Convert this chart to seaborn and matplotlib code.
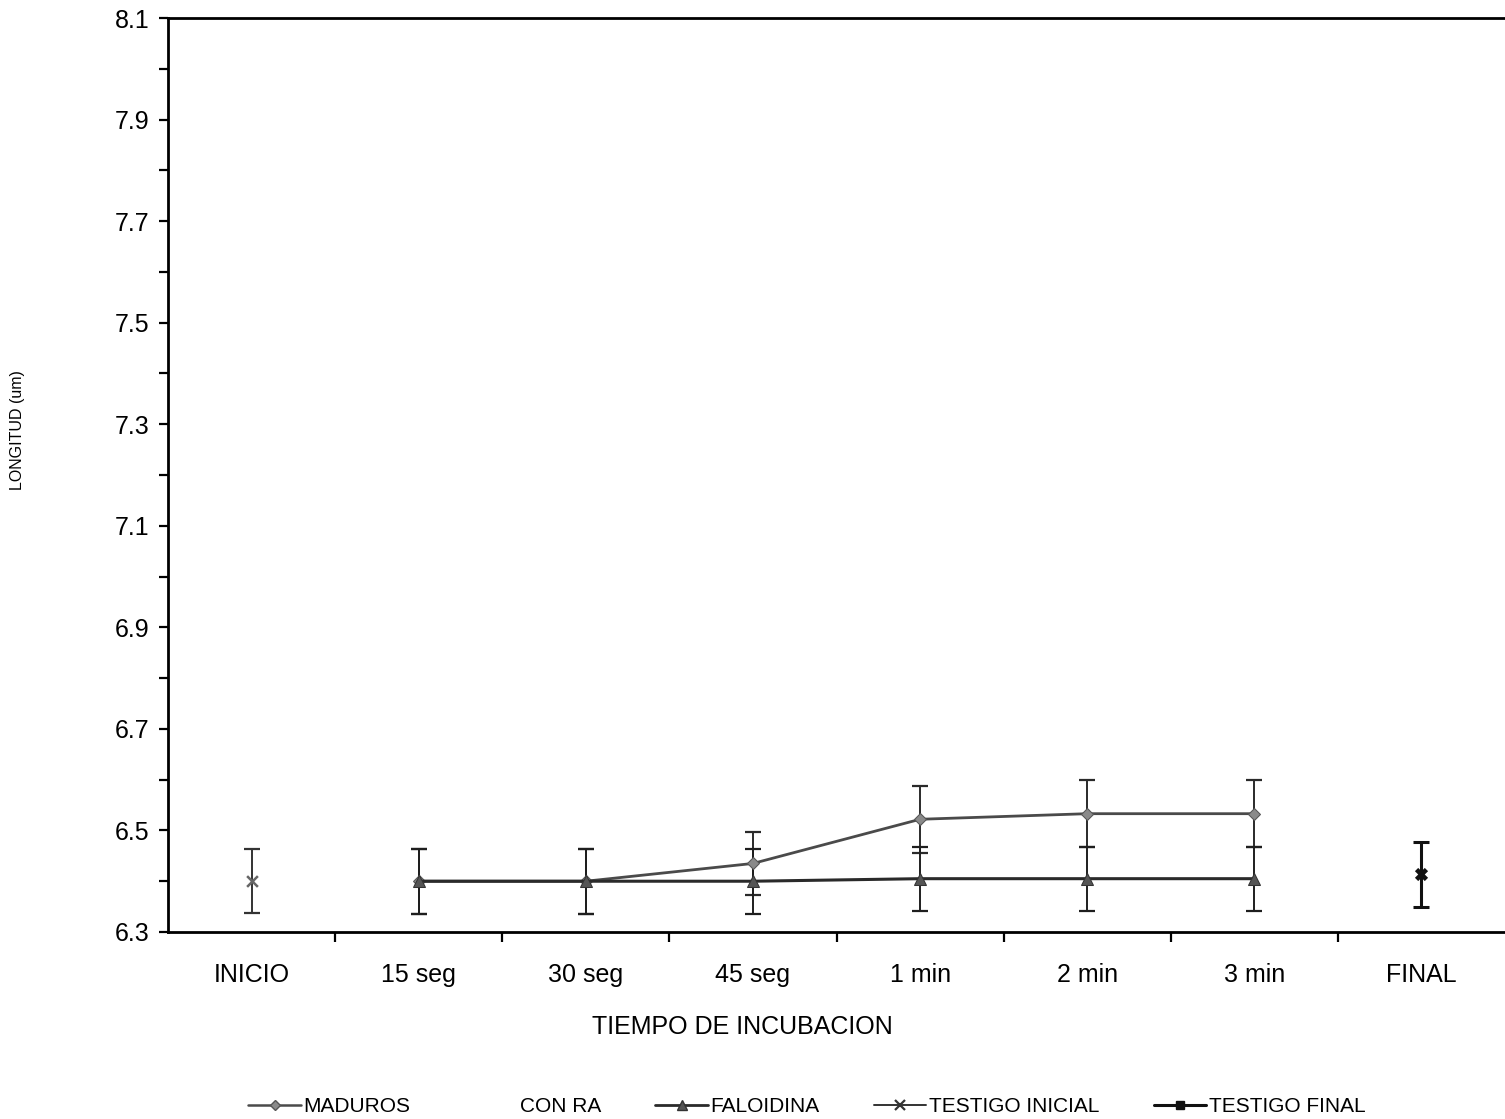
import numpy as np
import pandas as pd
import matplotlib
matplotlib.use("Agg")
from matplotlib import pyplot as plt
from matplotlib.lines import Line2D
from matplotlib.ticker import FixedLocator
import seaborn as sns

# data
categories = ["INICIO", "15 seg", "30 seg", "45 seg", "1 min", "2 min", "3 min", "FINAL"]
maduros = [np.nan, 6.400, 6.400, 6.435, 6.522, 6.533, 6.533, np.nan]
maduros_err = [np.nan, 0.064, 0.064, 0.062, 0.066, 0.066, 0.066, np.nan]
faloidina = [np.nan, 6.400, 6.400, 6.400, 6.405, 6.405, 6.405, np.nan]
faloidina_err = [np.nan, 0.064, 0.064, 0.064, 0.063, 0.063, 0.063, np.nan]
testigo_inicial = [6.400, np.nan, np.nan, np.nan, np.nan, np.nan, np.nan, np.nan]
testigo_inicial_err = [0.063, np.nan, np.nan, np.nan, np.nan, np.nan, np.nan, np.nan]
testigo_final = [np.nan, np.nan, np.nan, np.nan, np.nan, np.nan, np.nan, 6.414]
testigo_final_err = [np.nan, np.nan, np.nan, np.nan, np.nan, np.nan, np.nan, 0.064]
y_ticks = [6.3, 6.5, 6.7, 6.9, 7.1, 7.3, 7.5, 7.7, 7.9, 8.1]

sns.set_style("white")
plt.rcParams['font.family'] = ['Liberation Sans', 'DejaVu Sans']
plt.rcParams['text.color'] = 'black'
plt.rcParams['xtick.color'] = 'black'
plt.rcParams['ytick.color'] = 'black'

df = pd.DataFrame({
    'pos': np.arange(len(categories)),
    'cat': categories,
    'maduros': maduros, 'maduros_err': maduros_err,
    'faloidina': faloidina, 'faloidina_err': faloidina_err,
    'ti': testigo_inicial, 'ti_err': testigo_inicial_err,
    'tf': testigo_final, 'tf_err': testigo_final_err,
})

fig = plt.figure(figsize=(15.05, 11.19), dpi=100)
ax = fig.add_axes([168 / 1505, 1 - 932 / 1119, 1 - 168 / 1505, (932 - 18) / 1119])

ebkw = dict(fmt='none', capsize=5.5, capthick=1.6, elinewidth=1.4, zorder=2)

# MADUROS
ax.errorbar(df['pos'], df['maduros'], yerr=df['maduros_err'], ecolor='#2a2a2a', **ebkw)
sns.lineplot(x='pos', y='maduros', data=df, ax=ax, color='#4a4a4a', lw=2.0,
             marker='D', markersize=6, markeredgecolor='#555555', markerfacecolor='#8a8a8a', zorder=3)
# FALOIDINA
ax.errorbar(df['pos'], df['faloidina'], yerr=df['faloidina_err'], ecolor='#1e1e1e', **ebkw)
sns.lineplot(x='pos', y='faloidina', data=df, ax=ax, color='#2a2a2a', lw=2.2,
             marker='^', markersize=8, markeredgecolor='#333333', markerfacecolor='#555555', zorder=4)
# TESTIGO INICIAL
ax.errorbar(df['pos'], df['ti'], yerr=df['ti_err'], ecolor='#333333', **ebkw)
sns.scatterplot(x='pos', y='ti', data=df, ax=ax, marker='x', s=60, color='#666666',
                linewidth=1.8, zorder=4)
# TESTIGO FINAL
ax.errorbar(df['pos'], df['tf'], yerr=df['tf_err'], ecolor='#111111',
            fmt='none', capsize=5.5, capthick=2.2, elinewidth=2.2, zorder=2)
sns.scatterplot(x='pos', y='tf', data=df, ax=ax, marker='X', s=90, color='#111111',
                linewidth=0, zorder=4)

ax.set_xlim(-0.5, len(categories) - 0.5)
ax.set_ylim(6.3, 8.1)
ax.yaxis.set_major_locator(FixedLocator(y_ticks))
ax.yaxis.set_minor_locator(FixedLocator([t + 0.1 for t in y_ticks[:-1]]))
ax.set_yticklabels([f"{v:.1f}" for v in y_ticks])

ax.set_xticks(np.arange(len(categories)))
ax.set_xticklabels(categories)
ax.xaxis.set_minor_locator(FixedLocator(np.arange(0.5, len(categories) - 0.5, 1.0)))

ax.tick_params(axis='x', which='major', length=0, pad=22, labelsize=18)
ax.tick_params(axis='x', which='minor', bottom=True, direction='out', length=7, width=1.6)
ax.tick_params(axis='y', which='both', left=True, direction='out', length=6.5, width=1.6,
               labelsize=18, pad=7)

for side in ['left', 'top', 'bottom']:
    ax.spines[side].set_visible(True)
    ax.spines[side].set_color('black')
    ax.spines[side].set_linewidth(2.0)
ax.spines['right'].set_visible(False)
ax.set_xlabel('')
ax.set_ylabel('')
ax.grid(False)

fig.text(742 / 1505, 1 - 1027 / 1119, 'TIEMPO DE INCUBACION', ha='center', va='center', fontsize=18)
fig.text(18 / 1505, 1 - 430 / 1119, 'LONGITUD (um)', ha='center', va='center',
         rotation=90, fontsize=11.5)

handles = [
    Line2D([], [], color='#4a4a4a', lw=1.8, marker='D', markersize=5,
           markerfacecolor='#8a8a8a', markeredgecolor='#555555'),
    Line2D([], [], color='none'),
    Line2D([], [], color='#2a2a2a', lw=2.0, marker='^', markersize=7,
           markerfacecolor='#555555', markeredgecolor='#333333'),
    Line2D([], [], color='#333333', lw=1.4, marker='x', markersize=7, markeredgewidth=1.6),
    Line2D([], [], color='#111111', lw=2.2, marker='s', markersize=6),
]
labels = ['MADUROS', 'CON RA', 'FALOIDINA', 'TESTIGO INICIAL', 'TESTIGO FINAL']
fig.legend(handles, labels, loc='center', bbox_to_anchor=(807 / 1505, 1 - 1107 / 1119),
           ncol=5, frameon=False, fontsize=15, handlelength=2.5, handletextpad=0.15,
           columnspacing=2.6)

fig.savefig('out.png', dpi=100)
